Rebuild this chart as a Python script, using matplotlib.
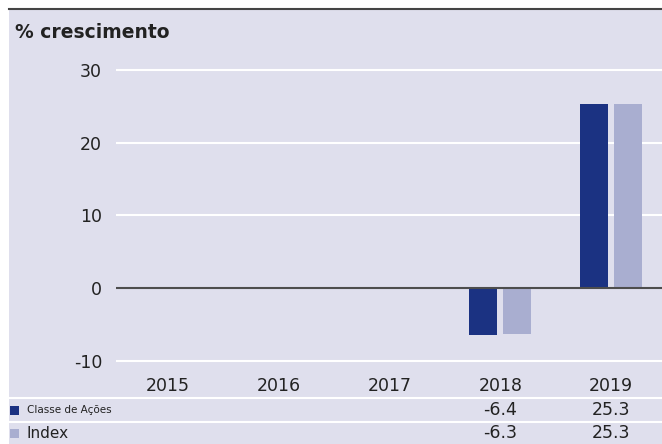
import matplotlib
matplotlib.use('Agg')
import matplotlib.pyplot as plt
import matplotlib as mpl
from matplotlib.patches import Rectangle
from matplotlib.transforms import blended_transform_factory
import numpy as np

years = ['2015', '2016', '2017', '2018', '2019']
classe = [0.0, 0.0, 0.0, -6.4, 25.3]
index = [0.0, 0.0, 0.0, -6.3, 25.3]
classe_lbl = ['', '', '', '-6.4', '25.3']
index_lbl = ['', '', '', '-6.3', '25.3']

dark = '#1b3282'
light = '#a9aed0'
bg = '#dfdfed'

mpl.rcParams['font.family'] = 'DejaVu Sans'

W, H = 662, 444
fig = plt.figure(figsize=(W / 100, H / 100), dpi=100)
fig.patch.set_facecolor('white')

# background panel + top rule
fig.patches.append(Rectangle((9 / W, 0), 1, 1 - 10 / H, transform=fig.transFigure,
                             facecolor=bg, edgecolor='none', zorder=-10))
fig.lines.append(plt.Line2D([9 / W, 1], [1 - 9.5 / H, 1 - 9.5 / H], transform=fig.transFigure,
                            color='#444444', lw=1.5))

ax = fig.add_axes([116 / W, 1 - 371.6 / H, (W - 116) / W, (371.6 - 51.8) / H])
ax.set_facecolor('none')
for s in ax.spines.values():
    s.set_visible(False)

x = np.arange(len(years))
w = 0.253
ax.bar(x - 0.152, classe, w, color=dark, zorder=3)
ax.bar(x + 0.152, index, w, color=light, zorder=3)

ax.set_xlim(-0.47, 4.46)
ax.set_ylim(-11.5, 32.5)
ax.set_yticks([-10, 0, 10, 20, 30])
ax.set_yticklabels(['-10', '0', '10', '20', '30'])
for v in [-10, 10, 20, 30]:
    ax.axhline(v, color='white', lw=1.5, zorder=1)
ax.axhline(0, color='#4d4d4d', lw=1.5, zorder=4)
ax.set_xticks(x)
ax.set_xticklabels(years)
ax.tick_params(axis='both', length=0, labelsize=12.5, colors='#222222')
ax.tick_params(axis='y', pad=10)
ax.tick_params(axis='x', pad=4)

fig.text(15 / W, 1 - 32 / H, '% crescimento', fontsize=13.5, fontweight='bold',
         color='#222222', va='center', ha='left')

# table rows
tr = blended_transform_factory(ax.transData, fig.transFigure)
for yp in [398, 422]:
    fig.lines.append(plt.Line2D([9 / W, 1], [1 - yp / H, 1 - yp / H], transform=fig.transFigure,
                                color='white', lw=1.5))
rows = [(410, dark, 'Classe de Ações', 7.5, classe_lbl),
        (433, light, 'Index', 11, index_lbl)]
for yp, col, name, fs, labels in rows:
    fig.patches.append(Rectangle((10 / W, 1 - (yp + 4.5) / H), 9 / W, 9 / H,
                                 transform=fig.transFigure, facecolor=col, edgecolor='none'))
    fig.text(27 / W, 1 - yp / H, name, fontsize=fs, color='#222222', va='center', ha='left')
    for i, lbl in enumerate(labels):
        fig.text(x[i], 1 - yp / H, lbl, transform=tr, fontsize=12.5, color='#222222',
                 va='center', ha='center')

fig.savefig('out.png', dpi=100)
